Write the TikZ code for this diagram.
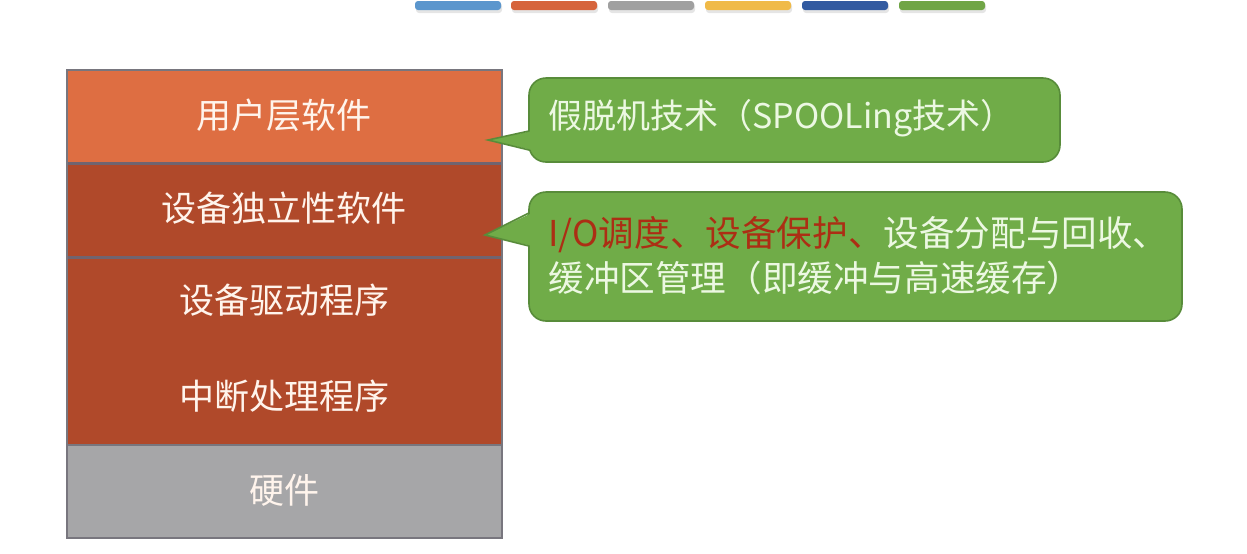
\documentclass[tikz,border=0pt]{standalone}
\usepackage{fontspec}
\setmainfont{Noto Sans CJK SC}
\usetikzlibrary{calc}
\definecolor{userC}{RGB}{222,110,66}
\definecolor{darkC}{RGB}{176,73,42}
\definecolor{hwC}{RGB}{166,166,168}
\definecolor{sepC}{RGB}{112,100,112}
\definecolor{edgeC}{RGB}{120,118,126}
\definecolor{greenC}{RGB}{112,172,72}
\definecolor{greenEdge}{RGB}{88,140,58}
\definecolor{txtW}{RGB}{255,244,236}
\definecolor{txtG}{RGB}{236,248,226}
\definecolor{redT}{RGB}{172,46,20}
\definecolor{barA}{RGB}{91,150,205}
\definecolor{barB}{RGB}{214,100,60}
\definecolor{barC}{RGB}{160,160,160}
\definecolor{barD}{RGB}{240,186,72}
\definecolor{barE}{RGB}{50,90,160}
\definecolor{barF}{RGB}{112,165,70}
\begin{document}
\begin{tikzpicture}[x=0.5pt,y=-0.5pt,
  layer/.style={minimum width=217.5pt, inner sep=0pt, outer sep=0pt, draw=none},
  lbl/.style={text=txtW, font=\fontsize{17.5pt}{21pt}\selectfont, inner sep=0pt},
  bubble/.style={fill=greenC, draw=greenEdge, line width=0.8pt, rounded corners=8.5pt, inner sep=0pt, outer sep=0pt},
  btxt/.style={text=txtG, font=\fontsize{17pt}{22.5pt}\selectfont, inner sep=0pt, anchor=west, align=left},
  btxtb/.style={btxt, font=\fontsize{17.8pt}{22.5pt}\selectfont},
  sepline/.style={draw=sepC, line width=1.5pt},
  ptrfill/.style={fill=greenC},
  ptredge/.style={draw=greenEdge, line width=0.8pt}]

\useasboundingbox (0,0) rectangle (1247,553);

% top colour bars
\foreach \x/\c in {415/barA,511/barB,608/barC,705/barD,802/barE,899/barF}{
  \fill[black!10, rounded corners=1.5pt] (\x+1,3) rectangle ++(86,10);
  \fill[\c, rounded corners=1.5pt] (\x,1) rectangle ++(86,9);
}

% stack
\node[layer, fill=userC, minimum height=46.5pt] (user) at (284.5,116.5) {};
\node[layer, fill=darkC, minimum height=47pt] (indep) at (284.5,210) {};
\node[layer, fill=darkC, minimum height=94pt] (drv) at (284.5,351) {};
\node[layer, fill=hwC, minimum height=46.5pt] (hw) at (284.5,491.5) {};

\draw[sepline] (user.south west) -- (user.south east);
\draw[sepline] (indep.south west) -- (indep.south east);
\draw[draw=edgeC, line width=0.8pt] (drv.south west) -- (drv.south east);
\draw[draw=edgeC, line width=1pt] (user.north west) rectangle (hw.south east);

\node[lbl] (tuser) at (284,115) {用户层软件};
\node[lbl] (tindep) at (284,208) {设备独立性软件};
\node[lbl] (tdrv) at (284,300) {设备驱动程序};
\node[lbl] (tint) at (284,396) {中断处理程序};
\node[lbl] (thw) at (284,490) {硬件};

% callout 1
\node[bubble, minimum width=265.5pt, minimum height=42pt] (c1) at (794.5,120) {};
\coordinate (p1) at (488,140);
\fill[ptrfill] (p1) -- ($(c1.west)+(3,11)$) -- ($(c1.west)+(3,30)$) -- cycle;
\draw[ptredge] ($(c1.west)+(0,11)$) -- (p1) -- ($(c1.west)+(0,30)$);
\node[btxt] (t1) at (548,118) {假脱机技术（SPOOLing技术）};

% callout 2
\node[bubble, minimum width=326.5pt, minimum height=64.5pt] (c2) at (855.5,256.5) {};
\coordinate (p2) at (485,235);
\fill[ptrfill] (p2) -- ($(c2.west)+(3,-43.5)$) -- ($(c2.west)+(3,-10.5)$) -- cycle;
\draw[ptredge] ($(c2.west)+(0,-43.5)$) -- (p2) -- ($(c2.west)+(0,-10.5)$);
\node[btxtb] (t2) at (548,255.5) {\textcolor{redT}{I/O调度、设备保护、}设备分配与回收、\\缓冲区管理（即缓冲与高速缓存）};

\end{tikzpicture}
\end{document}
